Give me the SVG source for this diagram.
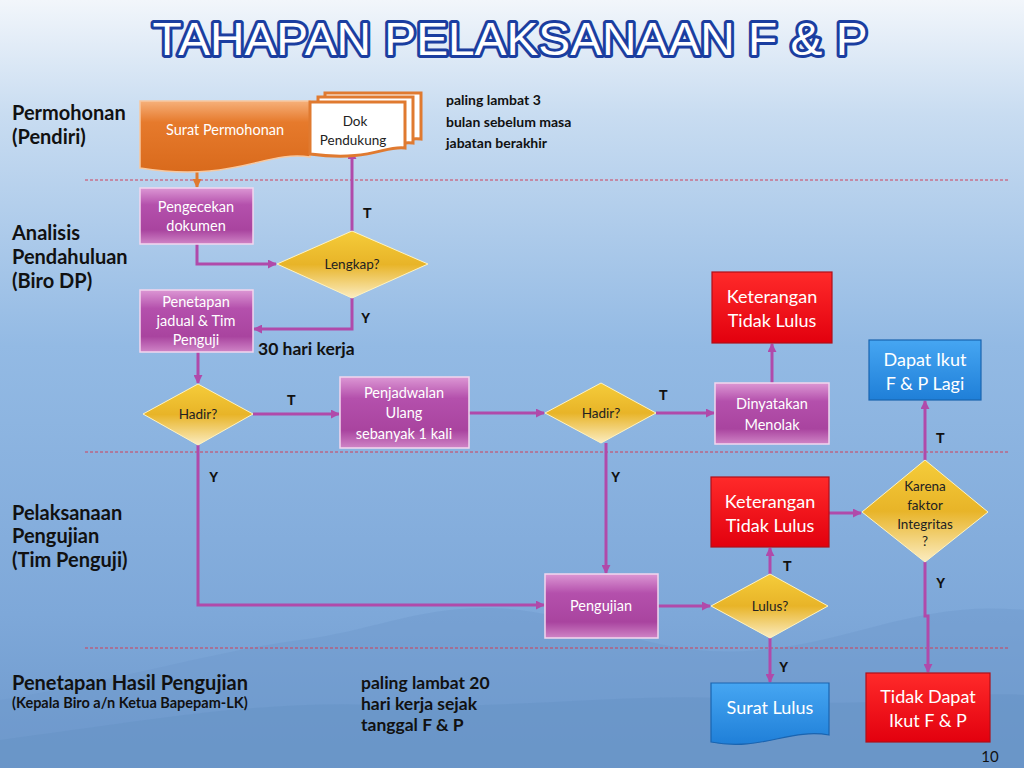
<svg xmlns="http://www.w3.org/2000/svg" width="1024" height="768" viewBox="0 0 1024 768">
<defs>
<linearGradient id="bg" x1="0" y1="0" x2="0" y2="1">
<stop offset="0" stop-color="#f2f6fb"/>
<stop offset="0.15" stop-color="#c8dcf1"/>
<stop offset="0.45" stop-color="#93bae4"/>
<stop offset="0.8" stop-color="#7ea8d9"/>
<stop offset="1" stop-color="#6d98cb"/>
</linearGradient>
<linearGradient id="gPurple" x1="0" y1="0" x2="0" y2="1">
<stop offset="0" stop-color="#dc97d4"/>
<stop offset="0.3" stop-color="#b450ac"/>
<stop offset="0.75" stop-color="#a9449f"/>
<stop offset="1" stop-color="#cf84c6"/>
</linearGradient>
<linearGradient id="gRed" x1="0" y1="0" x2="0" y2="1">
<stop offset="0" stop-color="#ff2a2a"/>
<stop offset="1" stop-color="#e2000e"/>
</linearGradient>
<linearGradient id="gBlue" x1="0" y1="0" x2="0" y2="1">
<stop offset="0" stop-color="#46a6f2"/>
<stop offset="1" stop-color="#1f7fd8"/>
</linearGradient>
<linearGradient id="gGold" x1="0" y1="0" x2="0" y2="1">
<stop offset="0" stop-color="#f5cc3a"/>
<stop offset="0.5" stop-color="#e8b428"/>
<stop offset="1" stop-color="#fbecc0"/>
</linearGradient>
<linearGradient id="gOrange" x1="0" y1="0" x2="0" y2="1">
<stop offset="0" stop-color="#f6b07a"/>
<stop offset="0.3" stop-color="#e67a2c"/>
<stop offset="1" stop-color="#d96a1c"/>
</linearGradient>
<marker id="arr" viewBox="0 0 10 10" refX="9" refY="5" markerWidth="9" markerHeight="9" markerUnits="userSpaceOnUse" orient="auto">
<path d="M0,0 L10,5 L0,10 z" fill="#b04aaa"/>
</marker>
<marker id="arrO" viewBox="0 0 10 10" refX="9" refY="5" markerWidth="9" markerHeight="9" markerUnits="userSpaceOnUse" orient="auto">
<path d="M0,0 L10,5 L0,10 z" fill="#e07a30"/>
</marker>
<style>
.box{fill:url(#gPurple);stroke:#f2d6ee;stroke-width:1.5}
.red{fill:url(#gRed);stroke:#b0101a;stroke-width:1.2}
.blue{fill:url(#gBlue);stroke:#1a64b0;stroke-width:1.2}
.dia{fill:url(#gGold);stroke:#fff3c0;stroke-width:1}
.wt{font-family:Lato,"Liberation Sans",sans-serif;font-size:14.5px;fill:#ffffff;text-anchor:middle}
.bt{font-family:Lato,"Liberation Sans",sans-serif;font-size:18px;fill:#ffffff;text-anchor:middle}
.dt{font-family:Lato,"Liberation Sans",sans-serif;font-size:13.5px;fill:#222222;text-anchor:middle}
.lane{font-family:Lato,"Liberation Sans",sans-serif;font-size:20px;font-weight:bold;fill:#111111}
.note{font-family:Lato,"Liberation Sans",sans-serif;font-size:14px;font-weight:bold;fill:#111111}
.note2{font-family:Lato,"Liberation Sans",sans-serif;font-size:17.5px;font-weight:bold;fill:#111111}
.lbl{font-family:"Liberation Sans",Arial,sans-serif;font-size:14px;font-weight:bold;fill:#111111}
.con{fill:none;stroke:#b04aaa;stroke-width:3;marker-end:url(#arr)}
.dash{stroke:#d0405a;stroke-width:1;stroke-dasharray:3,2}
</style>
</defs>
<rect x="0" y="0" width="1024" height="768" fill="url(#bg)"/>
<path d="M0,700 C120,680 220,650 300,640 C380,630 430,600 520,610 C600,620 660,660 760,650 C860,640 920,600 1024,610 L1024,768 L0,768 Z" fill="#6f9acc" opacity="0.45"/>
<path d="M0,740 C150,720 260,700 380,705 C520,710 640,690 760,700 C880,710 960,690 1024,695 L1024,768 L0,768 Z" fill="#6390c4" opacity="0.4"/>

<text x="510" y="55" text-anchor="middle" font-family="'Liberation Sans',Arial,sans-serif" font-size="47" fill="#ffffff" stroke="#1b3ea0" stroke-width="6" stroke-linejoin="round" paint-order="stroke" textLength="715" lengthAdjust="spacingAndGlyphs">TAHAPAN PELAKSANAAN F &amp; P</text>

<g id="lanes">
<line class="dash" x1="85" y1="180" x2="1010" y2="180"/>
<line class="dash" x1="85" y1="452" x2="1010" y2="452"/>
<line class="dash" x1="85" y1="648" x2="1010" y2="648"/>
<text class="lane" x="12" y="120">Permohonan</text>
<text class="lane" x="12" y="144">(Pendiri)</text>
<text class="lane" x="12" y="240">Analisis</text>
<text class="lane" x="12" y="264">Pendahuluan</text>
<text class="lane" x="12" y="288">(Biro DP)</text>
<text class="lane" x="12" y="520">Pelaksanaan</text>
<text class="lane" x="12" y="543">Pengujian</text>
<text class="lane" x="12" y="567">(Tim Penguji)</text>
<text class="lane" x="12" y="690">Penetapan Hasil Pengujian</text>
<text x="12" y="708" font-family="Lato,'Liberation Sans',sans-serif" font-size="14.5" font-weight="bold" fill="#111">(Kepala Biro a/n Ketua Bapepam-LK)</text>
</g>

<g id="notes">
<text class="note" x="446" y="105">paling lambat 3</text>
<text class="note" x="446" y="127">bulan sebelum masa</text>
<text class="note" x="446" y="148">jabatan berakhir</text>
<text class="note2" x="361" y="689">paling lambat 20</text>
<text class="note2" x="361" y="710">hari kerja sejak</text>
<text class="note2" x="361" y="731">tanggal F &amp; P</text>
<text class="note2" x="258" y="355">30 hari kerja</text>
<text x="990" y="762" text-anchor="middle" font-family="Lato,'Liberation Sans',sans-serif" font-size="15" fill="#111">10</text>
</g>

<g id="connectors">
<line x1="197" y1="170" x2="197" y2="187" fill="none" stroke="#e07a30" stroke-width="3" marker-end="url(#arrO)"/>
<path class="con" d="M197,244 V264 H276"/>
<path class="con" d="M352,231 V151"/>
<path class="con" d="M352,298 V329 H254"/>
<path class="con" d="M198,352 V383"/>
<path class="con" d="M253,414 H339"/>
<path class="con" d="M469,413 H544"/>
<path class="con" d="M656,413 H714"/>
<path class="con" d="M772,383 V344"/>
<path class="con" d="M198,445 V605 H544"/>
<path class="con" d="M606,443 V573"/>
<path class="con" d="M658,606 H710"/>
<path class="con" d="M770,574 V548"/>
<path class="con" d="M770,638 V682"/>
<path class="con" d="M829,513 H861"/>
<path class="con" d="M925,460 V401"/>
<path class="con" d="M925,562 V616 H928 V672"/>
<text class="lbl" x="363" y="218">T</text>
<text class="lbl" x="361" y="323">Y</text>
<text class="lbl" x="287" y="405">T</text>
<text class="lbl" x="659" y="400">T</text>
<text class="lbl" x="209" y="482">Y</text>
<text class="lbl" x="611" y="482">Y</text>
<text class="lbl" x="783" y="571">T</text>
<text class="lbl" x="779" y="672">Y</text>
<text class="lbl" x="936" y="443">T</text>
<text class="lbl" x="936" y="588">Y</text>
</g>

<g id="surat-permohonan">
<path d="M140,101 H310 V157 C265,150 235,183 140,168 Z" fill="url(#gOrange)" stroke="#f7c8a0" stroke-width="1.5"/>
<text class="wt" x="225" y="135">Surat Permohonan</text>
</g>

<g id="dok-pendukung">
<path d="M325,93 H421 V139 C400,136 390,150 325,146 Z" fill="#ffffff" stroke="#e07a30" stroke-width="3"/>
<path d="M318,97 H413 V143 C393,140 383,154 318,150 Z" fill="#ffffff" stroke="#e07a30" stroke-width="3"/>
<path d="M310,102 H405 V148 C385,145 370,162 310,154 Z" fill="#ffffff" stroke="#e07a30" stroke-width="3"/>
<text class="dt" x="355" y="126" font-size="14">Dok</text>
<text class="dt" x="353" y="145" font-size="14">Pendukung</text>
</g>

<g id="pengecekan">
<rect class="box" x="140" y="188" width="113" height="56"/>
<text class="wt" x="196" y="212">Pengecekan</text>
<text class="wt" x="196" y="231">dokumen</text>
</g>

<g id="lengkap">
<polygon class="dia" points="352,231 428,264 352,298 277,264"/>
<text class="dt" x="352" y="269">Lengkap?</text>
</g>

<g id="penetapan-jadual">
<rect class="box" x="140" y="290" width="113" height="62"/>
<text class="wt" x="196" y="307">Penetapan</text>
<text class="wt" x="196" y="326">jadual &amp; Tim</text>
<text class="wt" x="196" y="345">Penguji</text>
</g>

<g id="hadir1">
<polygon class="dia" points="198,384 253,414 198,445 143,414"/>
<text class="dt" x="198" y="419">Hadir?</text>
</g>

<g id="penjadwalan">
<rect class="box" x="340" y="377" width="129" height="71"/>
<text class="wt" x="404" y="398">Penjadwalan</text>
<text class="wt" x="404" y="418">Ulang</text>
<text class="wt" x="404" y="439">sebanyak 1 kali</text>
</g>

<g id="hadir2">
<polygon class="dia" points="601,383 656,413 601,443 545,413"/>
<text class="dt" x="601" y="418">Hadir?</text>
</g>

<g id="dinyatakan-menolak">
<rect class="box" x="715" y="383" width="114" height="61"/>
<text class="wt" x="772" y="409">Dinyatakan</text>
<text class="wt" x="772" y="430">Menolak</text>
</g>

<g id="keterangan1">
<rect class="red" x="712" y="272" width="120" height="71"/>
<text class="bt" x="772" y="303">Keterangan</text>
<text class="bt" x="772" y="327">Tidak Lulus</text>
</g>

<g id="dapat-ikut">
<rect class="blue" x="869" y="340" width="112" height="60"/>
<text class="bt" x="925" y="366">Dapat Ikut</text>
<text class="bt" x="925" y="390">F &amp; P Lagi</text>
</g>

<g id="karena">
<polygon class="dia" points="925,460 988,512 925,562 862,512"/>
<text class="dt" x="925" y="491" font-size="13">Karena</text>
<text class="dt" x="925" y="510" font-size="13">faktor</text>
<text class="dt" x="925" y="529" font-size="13">Integritas</text>
<text class="dt" x="925" y="546" font-size="13">?</text>
</g>

<g id="keterangan2">
<rect class="red" x="711" y="477" width="118" height="70"/>
<text class="bt" x="770" y="508">Keterangan</text>
<text class="bt" x="770" y="532">Tidak Lulus</text>
</g>

<g id="lulus">
<polygon class="dia" points="770,574 828,606 770,638 711,606"/>
<text class="dt" x="770" y="611">Lulus?</text>
</g>

<g id="pengujian">
<rect class="box" x="545" y="574" width="113" height="64"/>
<text class="wt" x="601" y="611">Pengujian</text>
</g>

<g id="surat-lulus">
<path d="M711,683 H829 V735 C790,728 760,752 711,742 Z" class="blue"/>
<text class="bt" x="770" y="714">Surat Lulus</text>
</g>

<g id="tidak-dapat">
<rect class="red" x="866" y="673" width="124" height="69"/>
<text class="bt" x="928" y="703">Tidak Dapat</text>
<text class="bt" x="928" y="727">Ikut F &amp; P</text>
</g>
</svg>
